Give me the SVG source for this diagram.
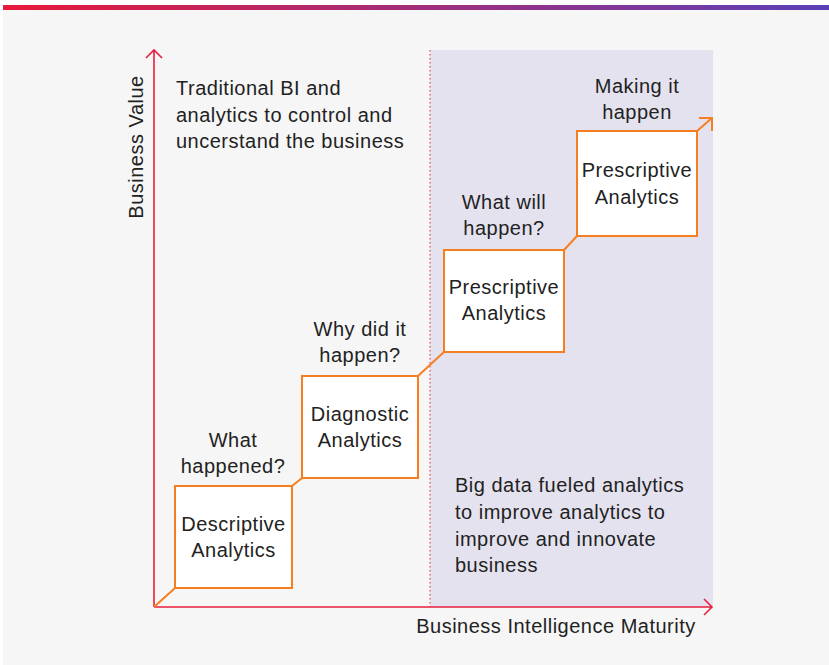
<svg xmlns="http://www.w3.org/2000/svg" width="829" height="665" viewBox="0 0 829 665">
<style>
.t{font-family:"Liberation Sans",Arial,sans-serif;font-size:20px;fill:#222;letter-spacing:0.5px;}
.c{text-anchor:middle;}
.box{fill:#fff;stroke:#f57f20;stroke-width:2;}
.con{stroke:#f57f20;stroke-width:2;fill:none;}
.ax{stroke:#e8203f;stroke-width:1.6;fill:none;}
</style>
<defs>
<linearGradient id="g" x1="0" y1="0" x2="1" y2="0">
<stop offset="0" stop-color="#e81a3b"/>
<stop offset="1" stop-color="#5b40b8"/>
</linearGradient>
</defs>
<rect x="0" y="0" width="829" height="665" fill="#fff"/>
<rect x="3" y="10" width="826" height="655" fill="#f6f6f6"/>
<rect x="3" y="5" width="826" height="5" fill="url(#g)"/>
<rect x="430" y="50" width="283" height="557" fill="#e5e2f0"/>
<line x1="430" y1="50" x2="430" y2="607" stroke="#e8203f" stroke-width="1" stroke-dasharray="1.5,2.5"/>
<g id="axes">
<path class="ax" d="M154,607 V50 M146,58 L154,50 L162,58"/>
<path class="ax" d="M154,607 H712 M704,599 L712,607 L704,615"/>
</g>
<g id="connectors">
<line class="con" x1="154" y1="607" x2="175" y2="588"/>
<line class="con" x1="292" y1="486" x2="302" y2="478"/>
<line class="con" x1="418" y1="376" x2="444" y2="352"/>
<line class="con" x1="564" y1="250" x2="577" y2="236"/>
<path class="con" d="M697,131 L712,118 M699,118 H712 V131"/>
</g>
<g id="descriptive">
<rect class="box" x="175" y="486" width="117" height="102"/>
<text class="t c" x="233.5" y="531">Descriptive</text>
<text class="t c" x="233.5" y="557">Analytics</text>
</g>
<g id="diagnostic">
<rect class="box" x="302" y="376" width="116" height="102"/>
<text class="t c" x="360" y="421">Diagnostic</text>
<text class="t c" x="360" y="447">Analytics</text>
</g>
<g id="predictive">
<rect class="box" x="444" y="250" width="120" height="102"/>
<text class="t c" x="504" y="294">Prescriptive</text>
<text class="t c" x="504" y="320">Analytics</text>
</g>
<g id="prescriptive">
<rect class="box" x="577" y="131" width="120" height="105"/>
<text class="t c" x="637" y="177">Prescriptive</text>
<text class="t c" x="637" y="204">Analytics</text>
</g>
<g id="labels">
<text class="t c" x="233" y="447">What</text>
<text class="t c" x="233" y="473">happened?</text>
<text class="t c" x="360" y="336">Why did it</text>
<text class="t c" x="360" y="362">happen?</text>
<text class="t c" x="504" y="209">What will</text>
<text class="t c" x="504" y="235">happen?</text>
<text class="t c" x="637" y="93">Making it</text>
<text class="t c" x="637" y="119">happen</text>
<text class="t" x="176" y="95">Traditional BI and</text>
<text class="t" x="176" y="122">analytics to control and</text>
<text class="t" x="176" y="148">uncerstand the business</text>
<text class="t" x="455" y="492">Big data fueled analytics</text>
<text class="t" x="455" y="519">to improve analytics to</text>
<text class="t" x="455" y="546">improve and innovate</text>
<text class="t" x="455" y="572">business</text>
<text class="t c" x="556" y="633">Business Intelligence Maturity</text>
<text class="t c" transform="translate(143,147) rotate(-90)">Business Value</text>
</g>
</svg>
